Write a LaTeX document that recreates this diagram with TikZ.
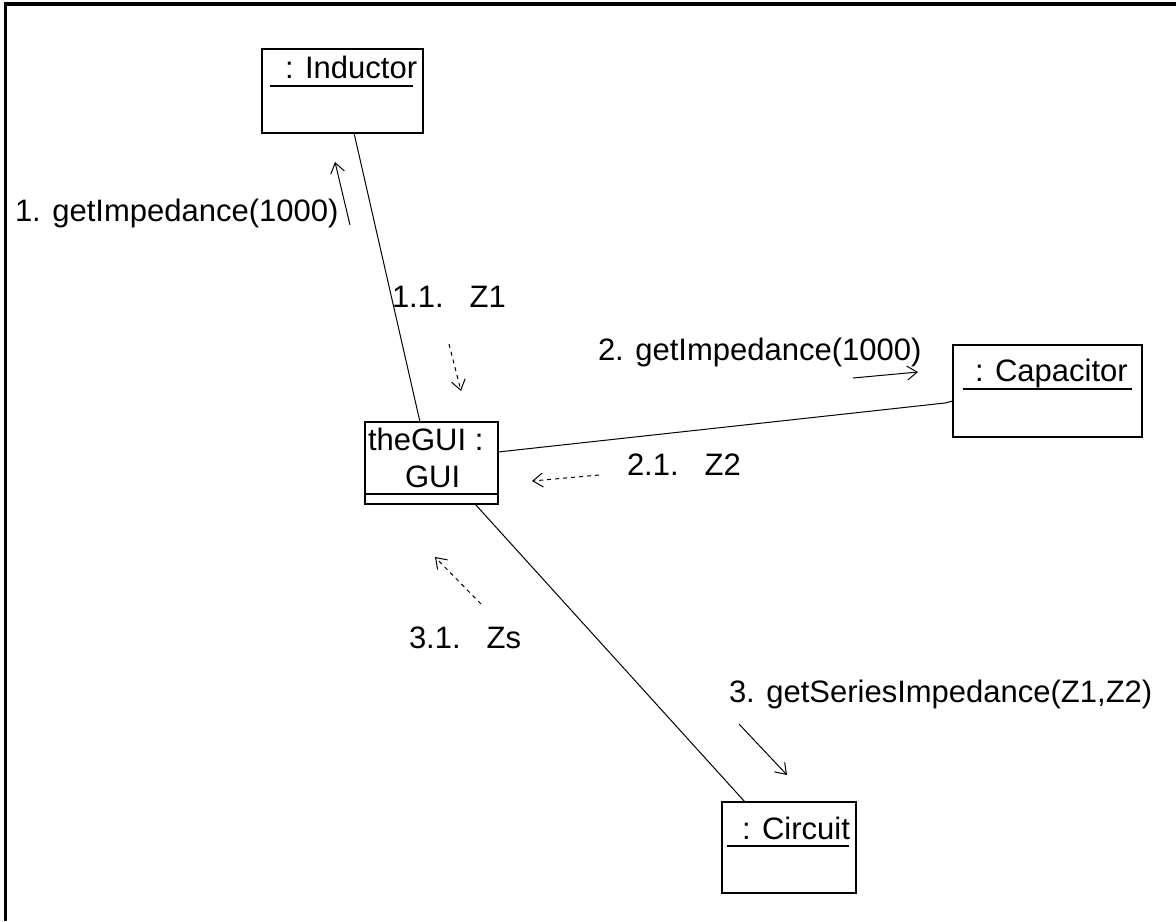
\documentclass[tikz,border=0pt]{standalone}
\usepackage{fontspec}
\setmainfont{Liberation Sans}
\usetikzlibrary{arrows.meta}
\begin{document}
\begin{tikzpicture}[x=0.5pt,y=-0.5pt,
  every node/.style={inner sep=0pt,outer sep=0pt},
  txt/.style={anchor=base west,font=\fontsize{15.5}{18}\selectfont},
  objbox/.style={draw,line width=0.9pt,rectangle,anchor=center},
  link/.style={line width=0.5pt},
  uline/.style={line width=0.9pt},
  call/.style={line width=0.5pt,-{Straight Barb[length=5pt,width=7pt]}},
  reply/.style={call,dash pattern=on 2pt off 2pt}]
\useasboundingbox (0,0) rectangle (1176,921);

% frame edges
\draw[line width=1.6pt] (5.5,921) -- (5.5,4) -- (1176,4);

% objects
\node[objbox,minimum width=80.5pt,minimum height=42pt] (ind) at (342.5,91) {};
\node[objbox,minimum width=66.5pt,minimum height=41pt] (gui) at (431.5,463) {};
\node[objbox,minimum width=94.5pt,minimum height=46pt] (cap) at (1047.5,391) {};
\node[objbox,minimum width=67pt,minimum height=45.5pt] (cir) at (789,847.5) {};

% object names
\node[txt] (indname) at (285,78) {: Inductor};
\draw[uline] (270,86) -- (413,86);
\node[txt] (capname) at (975,381) {: Capacitor};
\draw[uline] (963,389) -- (1132,389);
\node[txt] (cirname) at (742,839) {: Circuit};
\draw[uline] (727,846) -- (849,846);
\node[txt] (guiname1) at (368,450) {theGUI :};
\node[txt] (guiname2) at (405,487) {GUI};
\draw[uline] (gui.west |- 0,494) -- (gui.east |- 0,494);

% links
\draw[link] ([xshift=5.75pt]ind.south) -- ([xshift=-5.75pt]gui.north);
\draw[link] ([yshift=5.5pt]gui.east) -- (945,403) -- ([yshift=-5pt]cap.west);
\draw[link] ([xshift=21.75pt]gui.south) -- ([xshift=-22pt]cir.north);

% messages
\coordinate (m1a) at (350,225); \coordinate (m1b) at (335,162);
\draw[call] (m1a) -- (m1b);
\node[txt] (m1) at (15,221) {1. getImpedance(1000)};

\coordinate (m11a) at (449,344); \coordinate (m11b) at (461,391);
\draw[reply] (m11a) -- (m11b);
\node[txt] (m11) at (392,307) {1.1.\hspace{13pt}Z1};

\coordinate (m2a) at (853,378); \coordinate (m2b) at (918,372);
\draw[call] (m2a) -- (m2b);
\node[txt] (m2) at (598,360) {2. getImpedance(1000)};

\coordinate (m21a) at (599,475); \coordinate (m21b) at (532,481);
\draw[reply] (m21a) -- (m21b);
\node[txt] (m21) at (627,475) {2.1.\hspace{13pt}Z2};

\coordinate (m31a) at (481,604); \coordinate (m31b) at (435,557);
\draw[reply] (m31a) -- (m31b);
\node[txt] (m31) at (409,648) {3.1.\hspace{13pt}Zs};

\coordinate (m3a) at (739,724); \coordinate (m3b) at (787,775);
\draw[call] (m3a) -- (m3b);
\node[txt] (m3) at (729,702) {3. getSeriesImpedance(Z1,Z2)};
\end{tikzpicture}
\end{document}
